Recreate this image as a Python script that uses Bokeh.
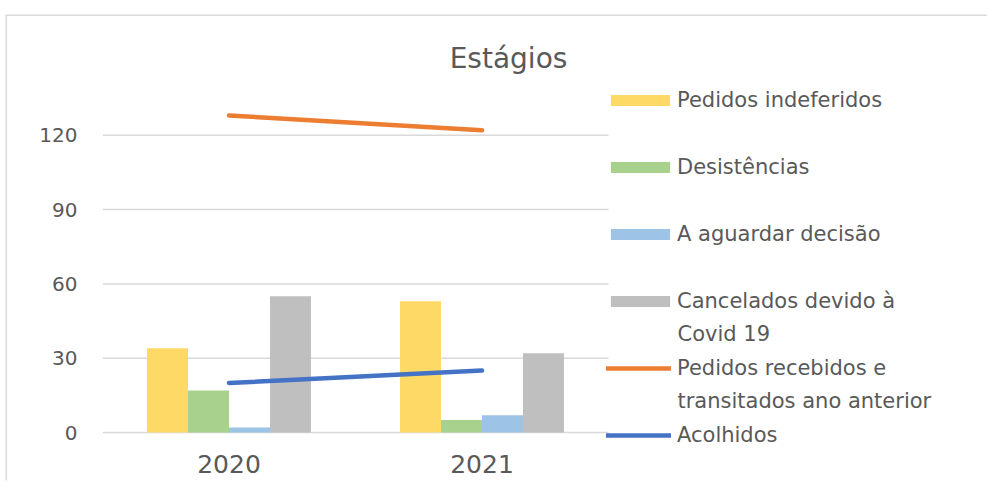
from bokeh.plotting import figure
from bokeh.models import ColumnDataSource, Legend, LegendItem, Label, Range1d, FixedTicker
from bokeh.embed import file_html
from bokeh.resources import INLINE

years = ["2020", "2021"]
indeferidos = [34, 53]
desistencias = [17, 5]
aguardar = [2, 7]
cancelados = [55, 32]
recebidos = [128, 122]
acolhidos = [20, 25]
y_ticks = [0, 30, 60, 90, 120]

labels = ["Pedidos indeferidos", "Desistências", "A aguardar decisão",
          "Cancelados devido à", "Pedidos recebidos e", "Acolhidos"]
second_lines = {3: "Covid 19", 4: "transitados ano anterior"}

xpos = [i + 0.5 for i in range(len(years))]
src = ColumnDataSource(dict(x=xpos, ind=indeferidos, des=desistencias, agu=aguardar,
                            can=cancelados, rec=recebidos, aco=acolhidos))

FONT = "DejaVu Sans"
GRAY = "#595959"
GRID = "#D9D9D9"

# figure placed at page offset (OX, OY) so that its top/left shadow acts as chart border
OX, OY = 7, 16
W, H = 988 - OX, 482 - OY
# layout in page pixels
LEFT, RIGHT, TOP, BOTTOM = 102, 988, 20, 448
ZERO_Y = 432                # page y of value 0
PX_PER_UNIT = 74.3 / 30     # vertical scale
CAT_W = 253                 # px per category

x_end = (RIGHT - LEFT) / CAT_W
y_start = -(BOTTOM - ZERO_Y) / PX_PER_UNIT
y_end = (ZERO_Y - TOP) / PX_PER_UNIT

p = figure(width=W, height=H, x_range=Range1d(0, x_end), y_range=Range1d(y_start, y_end),
           output_backend="svg", toolbar_location=None,
           min_border_left=LEFT - OX, min_border_right=988 - RIGHT, min_border_top=TOP - OY,
           min_border_bottom=482 - BOTTOM, margin=(OY, 0, 0, OX),
           styles={"box-shadow": "-1.5px -1.5px 0 0 #D9D9D9"})
p.outline_line_color = None
p.xgrid.grid_line_color = None
p.ygrid.grid_line_color = None

# gridlines limited to the two categories
n = len(years)
p.segment(x0=[0] * len(y_ticks), x1=[n] * len(y_ticks), y0=y_ticks, y1=y_ticks,
          line_color=GRID, line_width=1.5)

bw = 0.162
offs = [-1.5 * bw, -0.5 * bw, 0.5 * bw, 1.5 * bw]
cols = ["#FFD966", "#A9D18E", "#9DC3E6", "#BFBFBF"]
fields = ["ind", "des", "agu", "can"]
renderers = []
for f, o, c in zip(fields, offs, cols):
    r = p.vbar(x=[v + o for v in xpos], top=src.data[f], width=bw, bottom=0,
               fill_color=c, line_color=None)
    renderers.append(r)
r_rec = p.line(x="x", y="rec", source=src, line_color="#ED7D31", line_width=4.5, line_cap="round")
r_aco = p.line(x="x", y="aco", source=src, line_color="#4472C4", line_width=4.5, line_cap="round")
renderers += [r_rec, r_aco]

p.yaxis.ticker = FixedTicker(ticks=y_ticks)
p.yaxis.axis_line_color = None
p.yaxis.major_tick_line_color = None
p.yaxis.minor_tick_line_color = None
p.yaxis.major_label_standoff = 19
p.yaxis.major_label_text_font = FONT
p.yaxis.major_label_text_font_size = "20px"
p.yaxis.major_label_text_color = GRAY

p.xaxis.ticker = FixedTicker(ticks=xpos)
p.xaxis.major_label_overrides = {v: y for v, y in zip(xpos, years)}
p.xaxis.axis_line_color = None
p.xaxis.major_tick_line_color = None
p.xaxis.minor_tick_line_color = None
p.xaxis.major_label_standoff = 0
p.xaxis.major_label_text_font = FONT
p.xaxis.major_label_text_font_size = "25px"
p.xaxis.major_label_text_color = GRAY

ROW = 67
FIRST_Y = 100
LBL_H = 24
FS = "21px"
TEXT_X = 677
common = dict(margin=0, padding=0, label_height=LBL_H, spacing=ROW - LBL_H,
              border_line_color=None, background_fill_alpha=0, label_text_font=FONT,
              label_text_font_size=FS, label_text_color=GRAY)


def add_legend(idx, x0, glyph_w, glyph_h, standoff):
    its = [LegendItem(label=labels[i], renderers=[renderers[i]]) for i in idx]
    top = FIRST_Y + idx[0] * ROW - LBL_H / 2
    h = LBL_H * len(idx) + (ROW - LBL_H) * (len(idx) - 1)
    lg = Legend(items=its, location=(x0 - LEFT, BOTTOM - (top + h)), glyph_width=glyph_w,
                glyph_height=glyph_h, label_standoff=standoff, **common)
    p.add_layout(lg, "center")


# bar swatches (drawn with a 10% inset by Bokeh)
add_legend([0, 1, 2, 3], 603, 74, 14, TEXT_X - 603 - 74)
# line swatches
add_legend([4, 5], 606, 65, 10, TEXT_X - 606 - 65)

for i, t in second_lines.items():
    yy = FIRST_Y + i * ROW + 32
    p.add_layout(Label(x=TEXT_X - LEFT, y=BOTTOM - yy, x_units="screen", y_units="screen",
                       text=t, text_baseline="middle", text_align="left",
                       text_font=FONT, text_font_size=FS, text_color=GRAY))

p.add_layout(Label(x=508 - LEFT, y=BOTTOM - 58, x_units="screen", y_units="screen",
                   text="Estágios", text_align="center", text_baseline="middle",
                   text_font=FONT, text_font_size="28px", text_color=GRAY))

open("out.html", "w").write(file_html(p, INLINE))
